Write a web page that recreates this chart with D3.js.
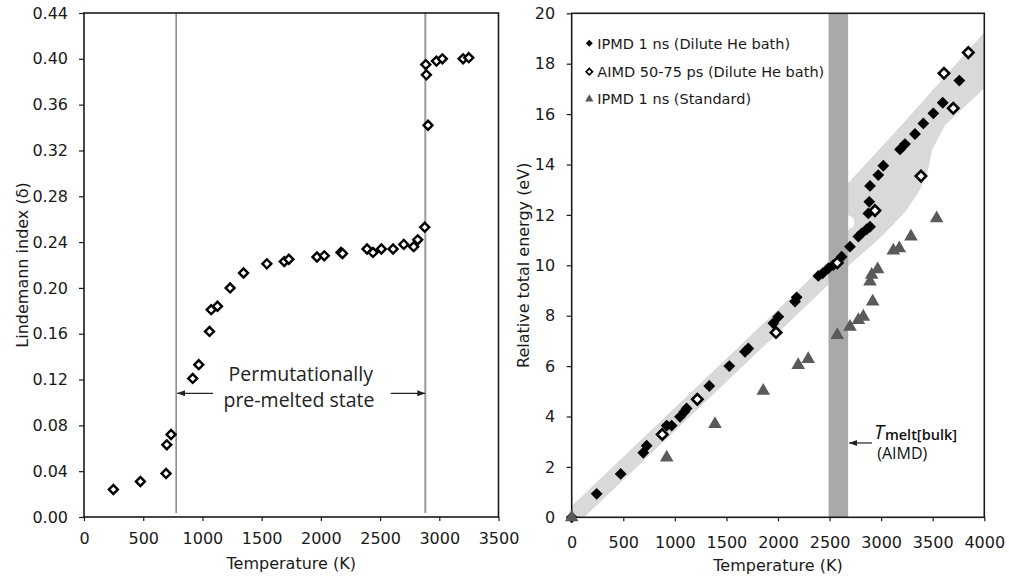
<!DOCTYPE html>
<html>
<head>
<meta charset="utf-8">
<script src="https://d3js.org/d3.v7.min.js"></script>
<style>
  body { margin: 0; background: #fff; }
  svg { display: block; font-family: "DejaVu Sans", sans-serif; }
</style>
</head>
<body>
<svg id="chart" width="1009" height="582"></svg>
<script>
// ---- left panel: Lindemann index vs temperature ----
const lindT = [248, 476, 693, 699, 735, 918, 969, 1060, 1074, 1127, 1234, 1347, 1544, 1691, 1730,
  1967, 2029, 2170, 2183, 2390, 2440, 2511, 2610, 2700, 2784, 2818, 2877, 2886, 2891, 2905,
  2976, 3026, 3201, 3249];
const lindD = [0.024, 0.031, 0.038, 0.063, 0.072, 0.121, 0.133, 0.162, 0.181, 0.184, 0.200, 0.213, 0.221, 0.223, 0.225,
  0.227, 0.228, 0.231, 0.230, 0.234, 0.231, 0.234, 0.234, 0.238, 0.236, 0.242, 0.253, 0.395, 0.386, 0.342,
  0.398, 0.400, 0.400, 0.401];
const lindTicks = [0, 0.04, 0.08, 0.12, 0.16, 0.20, 0.24, 0.28, 0.32, 0.36, 0.40, 0.44];
const tempTicksLeft = [0, 500, 1000, 1500, 2000, 2500, 3000, 3500];
const boundaryT = [778, 2882];

// ---- right panel: relative total energy vs temperature ----
const ipmdT = [0, 242, 475, 694, 727, 921, 969, 1050, 1092, 1114, 1334, 1528, 1680, 1712, 1955, 2003,
  2165, 2181, 2391, 2433, 2488, 2536, 2617, 2698, 2779, 2811, 2860, 2892, 2876, 2885, 2892, 2972,
  3021, 3183, 3231, 3328, 3409, 3506, 3597, 3758];
const ipmdE = [0, 0.93, 1.72, 2.56, 2.84, 3.64, 3.64, 3.99, 4.19, 4.32, 5.21, 6.00, 6.57, 6.70, 7.70, 7.96,
  8.56, 8.73, 9.58, 9.68, 9.88, 10.01, 10.34, 10.74, 11.14, 11.27, 11.43, 11.53, 12.06, 12.52, 13.15, 13.58,
  13.95, 14.60, 14.81, 15.21, 15.63, 16.03, 16.45, 17.33];
const aimdT = [878, 1218, 1981, 2575, 2940, 3386, 3699, 3609, 3845];
const aimdE = [3.29, 4.68, 7.33, 10.10, 12.17, 13.54, 16.23, 17.62, 18.44];
const stdT = [0, 921, 1389, 1857, 2196, 2293, 2575, 2698, 2779, 2827, 2918, 2892, 2908, 2966, 3118, 3176, 3289, 3538];
const stdE = [0, 2.37, 3.70, 5.02, 6.04, 6.28, 7.23, 7.56, 7.83, 7.96, 8.56, 9.35, 9.62, 9.84, 10.58, 10.67, 11.14, 11.86];
const energyTicks = [0, 2, 4, 6, 8, 10, 12, 14, 16, 18, 20];
const tempTicksRight = [0, 500, 1000, 1500, 2000, 2500, 3000, 3500, 4000];
const meltBand = [2490, 2680];

// shaded guide band outline (T, E), upper edge left->right then lower edge right->left
const bandUpper = [[0, 0.45], [2500, 10.2], [2690, 11.45], [2728, 11.5], [2742, 11.68], [2730, 11.88],
  [2690, 11.98], [2600, 12.1], [2600, 13.0], [2681, 13.27], [3183, 15.5], [4000, 19.25]];
const bandLower = [[4000, 17.03], [3619, 15.56], [3493, 14.58], [3454, 13.78], [3376, 12.99],
  [3231, 12.11], [2989, 11.08], [2680, 9.97], [120, 0], [0, -0.47]];

const legendItems = ["IPMD 1 ns (Dilute He bath)", "AIMD 50-75 ps (Dilute He bath)", "IPMD 1 ns (Standard)"];

const svg = d3.select("#chart");
const ink = "#1a1a1a";

svg.append("defs").append("marker")
  .attr("id", "arr")
  .attr("viewBox", "0 0 8 6")
  .attr("refX", 8).attr("refY", 3)
  .attr("markerWidth", 8).attr("markerHeight", 6)
  .attr("markerUnits", "userSpaceOnUse")
  .attr("orient", "auto")
  .append("path").attr("d", "M0,0L8,3L0,6Z").attr("fill", "#222");

const diamond = d3.symbol().type(d3.symbolSquare);
const triangle = d3.symbol().type(d3.symbolTriangle);

function styleAxis(g) {
  g.select(".domain").remove();
  g.selectAll(".tick line").attr("stroke", ink).attr("stroke-width", 1.2);
  g.selectAll(".tick text").attr("fill", ink).style("font-size", "16px")
    .style("font-family", "'DejaVu Sans', sans-serif");
}

// ================= left panel =================
const xL = d3.scaleLinear().domain([0, 3500]).range([84, 498.5]);
const yL = d3.scaleLinear().domain([0, 0.44]).range([517, 13]);

const gL = svg.append("g");

gL.selectAll(".bound")
  .data(boundaryT)
  .enter().append("line")
  .attr("x1", d => xL(d)).attr("x2", d => xL(d))
  .attr("y1", yL(0.44)).attr("y2", yL(0.0035))
  .attr("stroke", (d, i) => i === 0 ? "#666" : "#9a9a9a")
  .attr("stroke-width", (d, i) => i === 0 ? 1.2 : 2);

gL.append("g")
  .attr("transform", `translate(0,${yL(0)})`)
  .call(d3.axisBottom(xL).tickValues(tempTicksLeft).tickFormat(d3.format("d")).tickSize(4).tickSizeOuter(0).tickPadding(12))
  .call(styleAxis);

gL.append("g")
  .attr("transform", `translate(${xL(0)},0)`)
  .call(d3.axisLeft(yL).tickValues(lindTicks).tickFormat(d3.format(".2f")).tickSize(5).tickSizeOuter(0).tickPadding(11))
  .call(styleAxis);

gL.append("rect")
  .attr("x", xL(0)).attr("y", yL(0.44))
  .attr("width", xL(3500) - xL(0)).attr("height", yL(0) - yL(0.44))
  .attr("fill", "none").attr("stroke", ink).attr("stroke-width", 1.6);

gL.selectAll(".pt")
  .data(lindT.map((t, i) => ({ t, d: lindD[i] })))
  .enter().append("path")
  .attr("d", diamond.size(40)())
  .attr("transform", d => `translate(${xL(d.t)},${yL(d.d)}) rotate(45)`)
  .attr("fill", "#fff").attr("stroke", "#000").attr("stroke-width", 2.4);

// annotation
const annY = yL(0.108);
gL.append("line")
  .attr("x1", xL(1090)).attr("x2", xL(boundaryT[0]) + 1)
  .attr("y1", annY).attr("y2", annY)
  .attr("stroke", "#222").attr("stroke-width", 1.2).attr("marker-end", "url(#arr)");
gL.append("line")
  .attr("x1", xL(2590)).attr("x2", xL(boundaryT[1]))
  .attr("y1", annY).attr("y2", annY)
  .attr("stroke", "#222").attr("stroke-width", 1.2).attr("marker-end", "url(#arr)");

const annText = gL.append("text")
  .attr("text-anchor", "middle")
  .style("font-family", "'Open Sans', sans-serif")
  .style("font-size", "19.5px")
  .attr("fill", "#222");
annText.append("tspan").attr("x", xL(1830)).attr("y", 380.5).text("Permutationally");
annText.append("tspan").attr("x", xL(1815)).attr("y", 407).text("pre-melted state");

gL.append("text")
  .attr("x", (xL(0) + xL(3500)) / 2).attr("y", 569)
  .attr("text-anchor", "middle").attr("fill", ink)
  .style("font-size", "16px")
  .text("Temperature (K)");

gL.append("text")
  .attr("transform", `translate(28,${(yL(0) + yL(0.44)) / 2}) rotate(-90)`)
  .attr("text-anchor", "middle").attr("fill", ink)
  .style("font-size", "16px")
  .text("Lindemann index (δ)");

// ================= right panel =================
const xR = d3.scaleLinear().domain([0, 4000]).range([571.7, 984.3]);
const yR = d3.scaleLinear().domain([0, 20]).range([517.3, 13.3]);

const gR = svg.append("g");

gR.append("clipPath").attr("id", "clipR")
  .append("rect")
  .attr("x", xR(0)).attr("y", yR(20))
  .attr("width", xR(4000) - xR(0)).attr("height", yR(0) - yR(20));

const bandLine = d3.line().x(d => xR(d[0])).y(d => yR(d[1]));
gR.append("path")
  .attr("d", bandLine(bandUpper.concat(bandLower)) + "Z")
  .attr("fill", "#d9d9d9")
  .attr("clip-path", "url(#clipR)");

gR.append("rect")
  .attr("x", xR(meltBand[0])).attr("y", yR(20))
  .attr("width", xR(meltBand[1]) - xR(meltBand[0]))
  .attr("height", yR(0) - yR(20))
  .attr("fill", "#a9a9a9");

gR.append("g")
  .attr("transform", `translate(0,${yR(0)})`)
  .call(d3.axisBottom(xR).tickValues(tempTicksRight).tickFormat(d3.format("d")).tickSize(4).tickSizeOuter(0).tickPadding(15))
  .call(styleAxis);

gR.append("g")
  .attr("transform", `translate(${xR(0)},0)`)
  .call(d3.axisLeft(yR).tickValues(energyTicks).tickSize(5).tickSizeOuter(0).tickPadding(11.5))
  .call(styleAxis);

gR.append("rect")
  .attr("x", xR(0)).attr("y", yR(20))
  .attr("width", xR(4000) - xR(0)).attr("height", yR(0) - yR(20))
  .attr("fill", "none").attr("stroke", ink).attr("stroke-width", 1.6);

gR.selectAll(".ipmd")
  .data(ipmdT.map((t, i) => ({ t, e: ipmdE[i] })))
  .enter().append("path")
  .attr("d", diamond.size(70)())
  .attr("transform", d => `translate(${xR(d.t)},${yR(d.e)}) rotate(45)`)
  .attr("fill", "#000");

gR.selectAll(".aimd")
  .data(aimdT.map((t, i) => ({ t, e: aimdE[i] })))
  .enter().append("path")
  .attr("d", diamond.size(54)())
  .attr("transform", d => `translate(${xR(d.t)},${yR(d.e)}) rotate(45)`)
  .attr("fill", "#fff").attr("stroke", "#000").attr("stroke-width", 2.6);

gR.selectAll(".std")
  .data(stdT.map((t, i) => ({ t, e: stdE[i] })))
  .enter().append("path")
  .attr("d", triangle.size(80)())
  .attr("transform", d => `translate(${xR(d.t)},${yR(d.e)})`)
  .attr("fill", "#5a5a5a");

// legend
const legend = gR.append("g").attr("transform", `translate(${xR(0) + 17.6},43.3)`);
legendItems.forEach((label, i) => {
  const row = legend.append("g").attr("transform", `translate(0,${[0, 28.4, 55.7][i]})`);
  if (i === 0) {
    row.append("path").attr("d", diamond.size(24)()).attr("transform", "rotate(45)").attr("fill", "#000");
  } else if (i === 1) {
    row.append("path").attr("d", diamond.size(20)()).attr("transform", "rotate(45)")
      .attr("fill", "#fff").attr("stroke", "#000").attr("stroke-width", 1.7);
  } else {
    row.append("path").attr("d", triangle.size(30)()).attr("fill", "#5a5a5a");
  }
  row.append("text")
    .attr("x", 8).attr("y", 0).attr("dy", "0.36em")
    .attr("fill", ink).style("font-size", "14.5px")
    .text(label);
});

// melting temperature annotation
const meltY = yR(2.95);
gR.append("line")
  .attr("x1", xR(2910)).attr("x2", xR(meltBand[1]) + 1)
  .attr("y1", meltY).attr("y2", meltY)
  .attr("stroke", "#222").attr("stroke-width", 1.2).attr("marker-end", "url(#arr)");

const tm = gR.append("text")
  .attr("x", xR(2930)).attr("y", 439)
  .attr("fill", "#111")
  .style("font-family", "'Open Sans', sans-serif");
tm.append("tspan").style("font-style", "italic").style("font-size", "20px").text("T");
tm.append("tspan").attr("dx", 1).attr("dy", 1).style("font-size", "14.5px").style("font-weight", "600").text("melt[bulk]");

gR.append("text")
  .attr("x", xR(3205)).attr("y", 459)
  .attr("text-anchor", "middle").attr("fill", "#111")
  .style("font-family", "'Open Sans', sans-serif").style("font-size", "16px")
  .text("(AIMD)");

gR.append("text")
  .attr("x", (xR(0) + xR(4000)) / 2).attr("y", 571)
  .attr("text-anchor", "middle").attr("fill", ink)
  .style("font-size", "16px")
  .text("Temperature (K)");

gR.append("text")
  .attr("transform", `translate(529,${(yR(0) + yR(20)) / 2}) rotate(-90)`)
  .attr("text-anchor", "middle").attr("fill", ink)
  .style("font-size", "16px")
  .text("Relative total energy (eV)");
</script>
</body>
</html>
